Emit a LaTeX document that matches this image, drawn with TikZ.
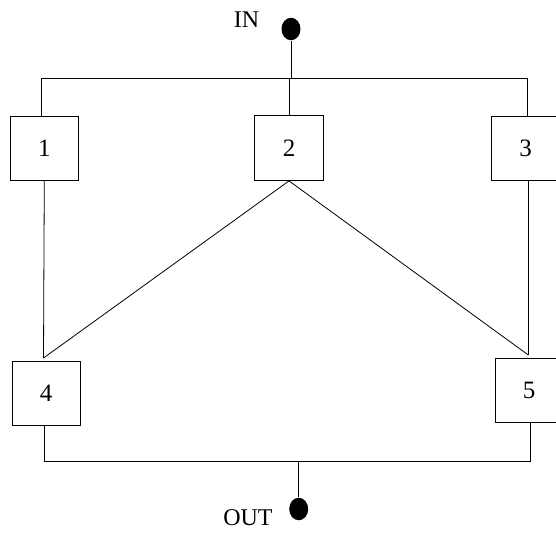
\documentclass[tikz,border=0pt]{standalone}
\usepackage{fontspec}
\setmainfont{Liberation Serif}
\usetikzlibrary{shapes.geometric}

\begin{document}
\begin{tikzpicture}[x=1pt, y=-1pt, line width=0.8pt,
  unitbox/.style={draw, rectangle, inner sep=0pt, minimum width=68pt,
                  minimum height=64pt, font=\fontsize{25}{30}\selectfont},
  terminal/.style={ellipse, fill=black, draw=none, inner sep=0pt,
                   minimum width=19pt, minimum height=22.5pt},
  portlabel/.style={anchor=base, inner sep=0pt, font=\fontsize{24}{28}\selectfont}]
  \clip (0,0) rectangle (556,535);

  % terminals and their labels
  \node[terminal] (in)  at (291,29)    {};
  \node[terminal] (out) at (298.7,509) {};
  \node[portlabel] (inlbl)  at (246.5,28) {IN};
  \node[portlabel] (outlbl) at (248,525)  {OUT};

  % the five units
  \node[unitbox] (b1) at (44.3,148)  {1};
  \node[unitbox, minimum width=68.6pt, minimum height=65pt] (b2) at (289,148) {2};
  \node[unitbox] (b3) at (525.7,148) {3};
  \node[unitbox] (b4) at (46,393)    {4};
  \node[unitbox] (b5) at (529,390.5) {5};

  % bus and junction points
  \coordinate (tl) at (41.7,78);
  \coordinate (tr) at (527,78);
  \coordinate (bl) at (44.3,461);
  \coordinate (br) at (530.3,461);
  \coordinate (j4) at (43.5,358);
  \coordinate (j5) at (528.3,355);

  % input side
  \draw (in.south) -- (in.south |- tl);
  \draw (tl) -- (tr);
  \draw (tl) -- (tl |- b1.north);
  \draw (b2.north) -- (b2.north |- tl);
  \draw (tr) -- (tr |- b3.north);

  % middle links
  \draw (b1.south) -- (j4);
  \draw (b2.south) -- (j4);
  \draw (b2.south) -- (j5);
  \draw (j5 |- b3.south) -- (j5);

  % output side
  \draw (bl |- b4.south) -- (bl) -- (br) -- (br |- b5.south);
  \draw (out.north) -- (out.north |- bl);
\end{tikzpicture}
\end{document}
